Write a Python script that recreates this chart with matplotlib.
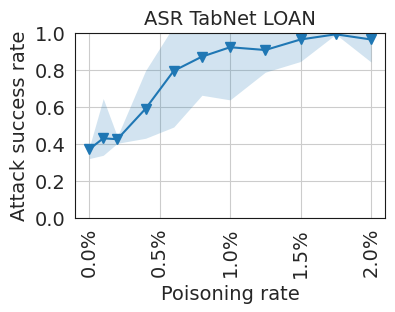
import matplotlib
matplotlib.use("Agg")
import matplotlib.pyplot as plt
import seaborn as sns
from matplotlib.ticker import FuncFormatter

rates = [0.0, 0.1, 0.2, 0.4, 0.6, 0.8, 1.0, 1.25, 1.5, 1.75, 2.0]
asr = [0.372, 0.432, 0.427, 0.592, 0.797, 0.874, 0.925, 0.91, 0.967, 0.995, 0.967]
asr_low = [0.322, 0.34, 0.405, 0.432, 0.493, 0.665, 0.64, 0.79, 0.848, 0.995, 0.845]
asr_high = [0.38, 0.647, 0.441, 0.798, 1.04, 1.08, 1.2, 1.03, 1.08, 1.0, 1.09]

sns.set_style("whitegrid", {"axes.edgecolor": "0.1"})
plt.rcParams['font.size'] = 14

fig, ax = plt.subplots(figsize=(3.95, 3.12), dpi=100)
ax.fill_between(rates, asr_low, asr_high, color="tab:blue", alpha=0.2, linewidth=0)
ax.plot(rates, asr, marker="v", color="tab:blue", markersize=7)

ax.set_ylim(0, 1)
ax.set_yticks([0.0, 0.2, 0.4, 0.6, 0.8, 1.0])
ax.set_xticks([0.0, 0.5, 1.0, 1.5, 2.0])
ax.xaxis.set_major_formatter(FuncFormatter(lambda v, p: f"{v:.1f}%"))
ax.tick_params(axis="x", labelrotation=90, labelsize=14)
ax.tick_params(axis="y", labelsize=14)
ax.set_xlabel("Poisoning rate", fontsize=14, labelpad=5)
ax.set_ylabel("Attack success rate", fontsize=14)
ax.set_title("ASR TabNet LOAN", fontsize=14)

fig.subplots_adjust(left=0.19, right=0.975, top=0.893, bottom=0.301)
fig.savefig("out.png", dpi=100)
